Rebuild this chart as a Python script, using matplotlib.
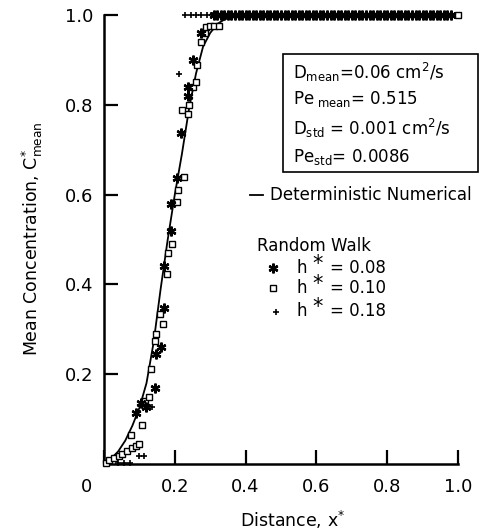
import numpy as np
import matplotlib
matplotlib.use('Agg')
import matplotlib.pyplot as plt
from matplotlib.lines import Line2D
from matplotlib.patches import Rectangle

plt.rcParams['font.family'] = 'DejaVu Sans'
plt.rcParams['mathtext.default'] = 'regular'

#### ========== Data ==========

# Deterministic numerical solution
xDet = [0.0, 0.02, 0.04, 0.06, 0.08, 0.10, 0.12, 0.14, 0.16, 0.18, 0.20,
        0.22, 0.24, 0.26, 0.28, 0.30, 0.32, 0.34, 0.36, 0.38, 0.40, 1.0]
cDet = [0.005, 0.012, 0.028, 0.052, 0.085, 0.125, 0.18, 0.27, 0.39, 0.50,
        0.60, 0.69, 0.79, 0.87, 0.93, 0.96, 0.98, 0.99, 0.995, 0.998, 1.0, 1.0]

# Random walk, h* = 0.08 (stars), rising part
xH08 = [0.09, 0.105, 0.119, 0.145, 0.148, 0.162, 0.17, 0.17, 0.19, 0.19,
        0.205, 0.218, 0.236, 0.236, 0.25, 0.273]
cH08 = [0.114, 0.136, 0.127, 0.17, 0.246, 0.26, 0.348, 0.44, 0.52, 0.58,
        0.638, 0.737, 0.82, 0.84, 0.90, 0.96]

# h* = 0.08, saturated points (C* = 1) forming the dense band
xH08Top = [0.31, 0.32, 0.33, 0.34, 0.35, 0.36, 0.37, 0.38, 0.39, 0.40,
           0.41, 0.42, 0.43, 0.44, 0.45, 0.46, 0.47, 0.48, 0.49, 0.50,
           0.51, 0.52, 0.53, 0.54, 0.55, 0.56, 0.57, 0.58, 0.59, 0.60,
           0.61, 0.62, 0.63, 0.64, 0.65, 0.66, 0.67, 0.68, 0.69, 0.70,
           0.71, 0.72, 0.73, 0.74, 0.75, 0.76, 0.77, 0.78, 0.79, 0.80,
           0.81, 0.82, 0.83, 0.84, 0.85, 0.86, 0.87, 0.88, 0.89, 0.90,
           0.91, 0.92, 0.93, 0.94, 0.95, 0.96, 0.97, 0.98]
cH08Top = [1.0] * len(xH08Top)

# Random walk, h* = 0.10 (open squares)
xH10 = [0.005, 0.014, 0.028, 0.043, 0.051, 0.065, 0.077, 0.08, 0.09, 0.10,
        0.108, 0.117, 0.128, 0.134, 0.145, 0.148, 0.157, 0.168, 0.179, 0.182,
        0.193, 0.207, 0.21, 0.227, 0.219, 0.236, 0.24, 0.25, 0.26, 0.264,
        0.273, 0.284, 0.287, 0.30, 0.312, 0.325, 1.00]
cH10 = [0.003, 0.009, 0.013, 0.018, 0.022, 0.03, 0.065, 0.036, 0.04, 0.045,
        0.087, 0.14, 0.15, 0.212, 0.274, 0.29, 0.333, 0.312, 0.424, 0.47,
        0.49, 0.583, 0.61, 0.64, 0.788, 0.78, 0.80, 0.84, 0.85, 0.888,
        0.94, 0.96, 0.973, 0.975, 0.975, 0.975, 1.0]

# Random walk, h* = 0.18 (pluses)
xH18 = [0.04, 0.057, 0.074, 0.098, 0.113, 0.125, 0.135, 0.213,
        0.23, 0.245, 0.26, 0.275, 0.29, 0.305]
cH18 = [0.002, 0.002, 0.002, 0.018, 0.018, 0.13, 0.128, 0.868,
        1.0, 1.0, 1.0, 1.0, 1.0, 1.0]

xTicks = [0.0, 0.2, 0.4, 0.6, 0.8, 1.0]
xTickLabels = ['', '0.2', '0.4', '0.6', '0.8', '1.0']
yTicks = [0.2, 0.4, 0.6, 0.8, 1.0]
yTickLabels = ['0.2', '0.4', '0.6', '0.8', '1.0']

boxLines = [r'D$_{mean}$=0.06 cm$^{2}$/s',
            r'Pe$_{\ mean}$= 0.515',
            r'D$_{std}$ = 0.001 cm$^{2}$/s',
            r'Pe$_{std}$= 0.0086']
rwLabels = ['= 0.08', '= 0.10', '= 0.18']

#### ====== Figure ======

W, H = 480, 532

def fx(px):
    return px / W

def fy(py):
    return 1.0 - py / H

starMarker = dict(ls='none', marker=(6, 2, 0), ms=7, mew=1.7, color='k')
sqMarker = dict(ls='none', marker='s', ms=5, mew=1.0, mfc='white', mec='k')
plusMarker = dict(ls='none', marker='+', ms=5, mew=1.2, color='k')

fig = plt.figure(figsize=(4.8, 5.32), dpi=100)
ax = fig.add_axes([fx(104), fy(464), (458 - 104) / W, (464 - 15) / H])

ax.plot(xDet, cDet, '-', color='k', lw=1.3, clip_on=False, zorder=2)
ax.plot(xH10, cH10, clip_on=False, zorder=3, **sqMarker)
ax.plot(xH08, cH08, clip_on=False, zorder=4, **starMarker)
ax.plot(xH08Top, cH08Top, clip_on=False, zorder=4, **starMarker)
ax.plot(xH18, cH18, clip_on=False, zorder=5, **plusMarker)

ax.set_xlim(0, 1.0)
ax.set_ylim(0, 1.0)
ax.set_xticks(xTicks)
ax.set_xticklabels(xTickLabels)
ax.set_yticks(yTicks)
ax.set_yticklabels(yTickLabels)

for s in ['top', 'right']:
    ax.spines[s].set_visible(False)
for s in ['left', 'bottom']:
    ax.spines[s].set_linewidth(1.8)

ax.tick_params(axis='both', direction='in', length=10, width=1.6,
               labelsize=13)
ax.tick_params(axis='y', pad=8)
ax.tick_params(axis='x', pad=10)

fig.text(fx(86), fy(487), '0', fontsize=13, ha='center', va='center')
fig.text(fx(293), fy(520), r'Distance, x$^{*}$', fontsize=12.5,
         ha='center', va='center')
fig.text(fx(32), fy(239), r'Mean Concentration, C$^{*}_{mean}$',
         fontsize=12.5, ha='center', va='center', rotation=90)

# Parameter box
fig.add_artist(Rectangle((fx(283), fy(172)), (478 - 283) / W, (172 - 54) / H,
                         transform=fig.transFigure, fill=False, lw=1.2,
                         ec='k'))
for line, py in zip(boxLines, [79, 104, 135, 162]):
    fig.text(fx(293), fy(py), line, fontsize=12, ha='left',
             va='baseline')

# Deterministic legend entry
fig.add_artist(Line2D([fx(250), fx(263)], [fy(195), fy(195)],
                      transform=fig.transFigure, color='k', lw=1.3))
fig.text(fx(270), fy(195), 'Deterministic Numerical', fontsize=12,
         ha='left', va='center')

# Random walk legend
fig.text(fx(257), fy(251), 'Random Walk', fontsize=12, ha='left',
         va='baseline')
rwRows = [273, 293, 316]
rwMarkers = [(273, 268, starMarker), (273, 288, sqMarker),
             (276, 312, plusMarker)]
for px, py, mk in rwMarkers:
    fig.add_artist(Line2D([fx(px)], [fy(py)], transform=fig.transFigure,
                          **mk))
for lab, py in zip(rwLabels, rwRows):
    fig.text(fx(296), fy(py), 'h', fontsize=12, ha='left', va='baseline')
    fig.text(fx(312), fy(py - 3), '*', fontsize=15, ha='left',
             va='baseline')
    fig.text(fx(330), fy(py), lab, fontsize=12, ha='left', va='baseline')

fig.savefig('out.png', dpi=100)
